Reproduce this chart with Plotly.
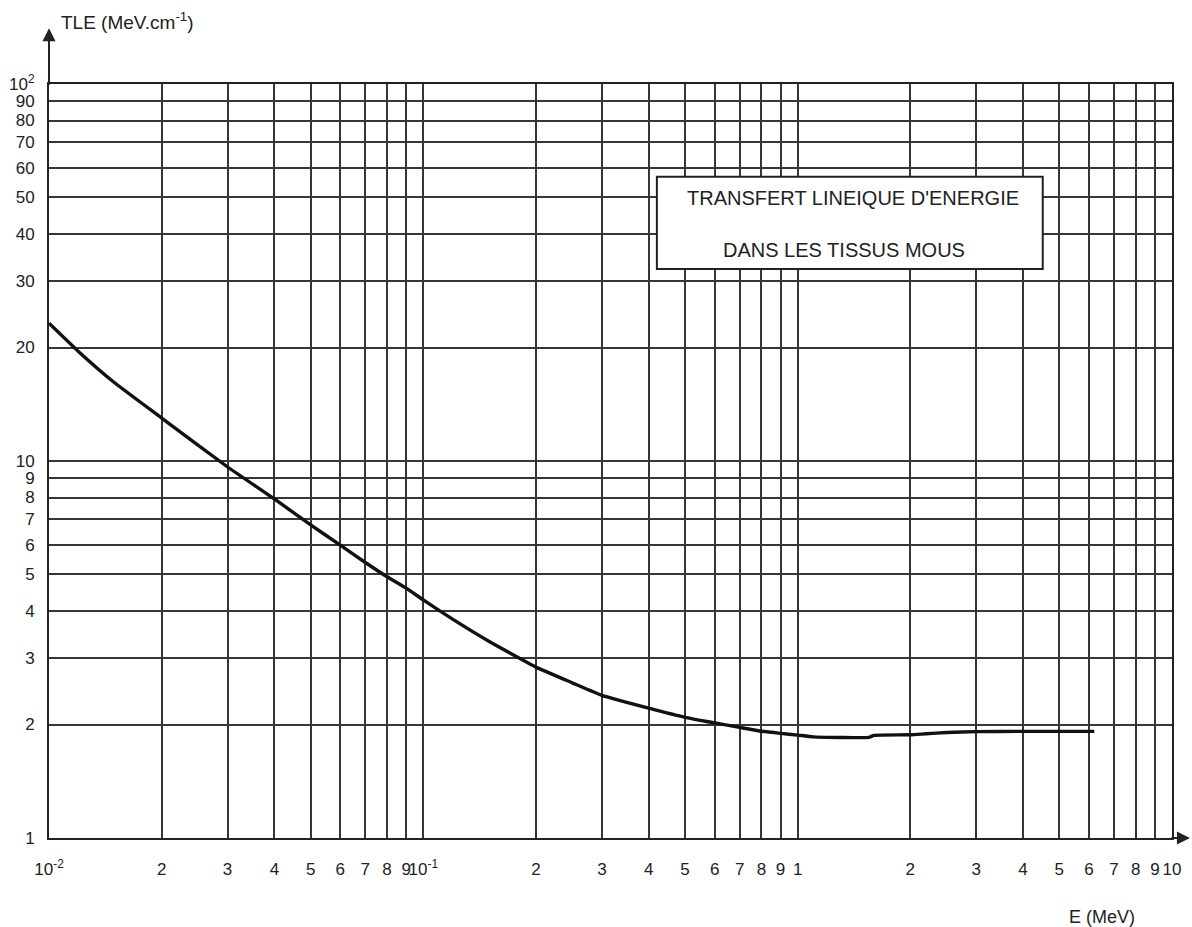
import plotly.graph_objects as go

# Curve data
energy_mev = [0.01, 0.012, 0.015, 0.02, 0.03, 0.04, 0.05, 0.06, 0.07, 0.08, 0.09, 0.1,
              0.12, 0.15, 0.2, 0.25, 0.3, 0.4, 0.5, 0.6, 0.7, 0.8, 0.9, 1.0, 1.1, 1.3,
              1.55, 1.6, 2.0, 2.2, 2.5, 3.0, 4.0, 5.0, 6.2]
tle = [23.2, 19.5, 16.1, 13.0, 9.64, 7.93, 6.77, 5.98, 5.38, 4.93, 4.6, 4.28,
       3.8, 3.32, 2.84, 2.58, 2.39, 2.21, 2.09, 2.02, 1.965, 1.92, 1.895, 1.875, 1.855, 1.848,
       1.848, 1.872, 1.878, 1.89, 1.905, 1.915, 1.918, 1.918, 1.918]

# Tick values and labels
x_tickvals = [0.01, 0.02, 0.03, 0.04, 0.05, 0.06, 0.07, 0.08, 0.09,
              0.1, 0.2, 0.3, 0.4, 0.5, 0.6, 0.7, 0.8, 0.9,
              1, 2, 3, 4, 5, 6, 7, 8, 9, 10]
x_ticktext = ["10<sup>-2</sup>", "2", "3", "4", "5", "6", "7", "8", "9",
              "10<sup>-1</sup>", "2", "3", "4", "5", "6", "7", "8", "9",
              "1", "2", "3", "4", "5", "6", "7", "8", "9", "10"]
y_tickvals = [1, 2, 3, 4, 5, 6, 7, 8, 9, 10, 20, 30, 40, 50, 60, 70, 80, 90, 100]
y_ticktext = ["1", "2", "3", "4", "5", "6", "7", "8", "9", "10",
              "20", "30", "40", "50", "60", "70", "80", "90", "10<sup>2</sup>"]

title_lines = ["TRANSFERT LINEIQUE D'ENERGIE", "DANS LES TISSUS MOUS"]
y_title = "TLE (MeV.cm<sup>-1</sup>)"
x_title = "E (MeV)"

FONT = "Liberation Sans, Arial, sans-serif"
GRID = "#363636"
TXT = "#222222"

fig = go.Figure()
fig.add_trace(go.Scatter(x=energy_mev, y=tle, mode="lines",
                         line=dict(color="#111111", width=3.4, shape="spline", smoothing=0.4),
                         showlegend=False, hoverinfo="skip"))

fig.update_xaxes(type="log", range=[-2, 1], tickvals=x_tickvals, ticktext=x_ticktext,
                 showgrid=True, gridcolor=GRID, gridwidth=1.7, automargin=False,
                 showline=True, linecolor="#222222", linewidth=2, mirror=True,
                 ticks="", tickangle=0, ticklabelstandoff=15, zeroline=False,
                 tickfont=dict(family=FONT, size=17, color=TXT))
fig.update_yaxes(type="log", range=[0, 2], tickvals=y_tickvals, ticktext=y_ticktext,
                 showgrid=True, gridcolor=GRID, gridwidth=1.7, automargin=False,
                 showline=True, linecolor="#222222", linewidth=2, mirror=True,
                 ticks="", ticklabelstandoff=9, zeroline=False,
                 tickfont=dict(family=FONT, size=17, color=TXT))

# Title box
fig.add_shape(type="rect", xref="paper", yref="paper",
              x0=0.5413, x1=0.8849, y0=0.7546, y1=0.877,
              line=dict(color="#222222", width=2), fillcolor="white", layer="above")
fig.add_annotation(xref="paper", yref="paper", x=0.716, y=0.8488, xanchor="center", yanchor="middle",
                   text=title_lines[0], showarrow=False, font=dict(family=FONT, size=20, color=TXT))
fig.add_annotation(xref="paper", yref="paper", x=0.7075, y=0.7805, xanchor="center", yanchor="middle",
                   text=title_lines[1], showarrow=False, font=dict(family=FONT, size=20, color=TXT))

# Axis titles
fig.add_annotation(xref="paper", yref="paper", x=0.0085, y=1.084, xanchor="left", yanchor="middle",
                   text=y_title, showarrow=False, font=dict(family=FONT, size=19, color=TXT))
fig.add_annotation(xref="paper", yref="paper", x=0.938, y=-0.105, xanchor="center", yanchor="middle",
                   text=x_title, showarrow=False, font=dict(family=FONT, size=18, color=TXT))

# Axis arrows
fig.add_annotation(xref="paper", yref="paper", x=0, y=1.074, ax=0, ay=58,
                   showarrow=True, arrowhead=2, arrowsize=1.3, arrowwidth=2, arrowcolor="#222222", text="")
fig.add_annotation(xref="paper", yref="paper", x=1.016, y=0, ax=-20, ay=0,
                   showarrow=True, arrowhead=2, arrowsize=1.3, arrowwidth=2, arrowcolor="#222222", text="")

fig.update_layout(width=1192, height=927, autosize=False,
                  margin=dict(l=49, r=20, t=84, b=89),
                  paper_bgcolor="white", plot_bgcolor="white",
                  font=dict(family=FONT, color=TXT))

fig.write_html("out.html")
